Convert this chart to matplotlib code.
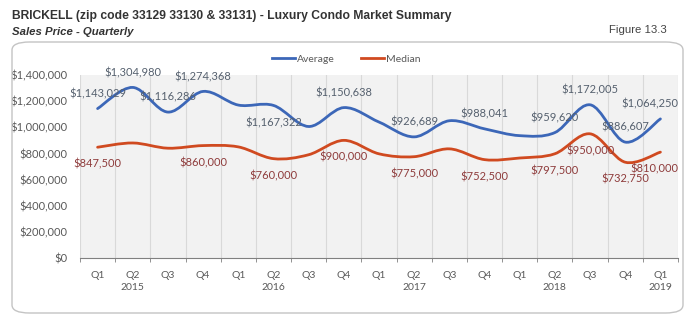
import numpy as np
import matplotlib.pyplot as plt
from matplotlib.path import Path
from matplotlib.patches import PathPatch, FancyBboxPatch

# quarters Q1 2015 .. Q1 2019
quarters = ["Q1", "Q2", "Q3", "Q4", "Q1", "Q2", "Q3", "Q4", "Q1",
            "Q2", "Q3", "Q4", "Q1", "Q2", "Q3", "Q4", "Q1"]
years = ["", "2015", "", "", "", "2016", "", "", "",
         "2017", "", "", "", "2018", "", "", "2019"]

average = [1143029, 1304980, 1116286, 1274368, 1170000, 1167322, 1006000, 1150638,
           1040000, 926689, 1050000, 988041, 936000, 959620, 1172005, 886607, 1064250]
median = [847500, 880000, 840000, 860000, 850000, 760000, 790000, 900000,
          797000, 775000, 835000, 752500, 765000, 797500, 950000, 732750, 810000]

# which points carry a data label
avg_labeled = [0, 1, 2, 3, 5, 7, 9, 11, 13, 14, 15, 16]
med_labeled = [0, 3, 5, 7, 9, 11, 13, 14, 15, 16]

blue = "#3C67B8"
red = "#D04A20"
grey = "#595959"


def smooth_path(xs, ys):
    # excel-like smoothed line: cubic bezier segments (catmull-rom control points)
    pts = np.column_stack([xs, ys]).astype(float)
    n = len(pts)
    verts = [pts[0]]
    codes = [Path.MOVETO]
    for i in range(n - 1):
        p0 = pts[i - 1] if i > 0 else pts[i]
        p1 = pts[i]
        p2 = pts[i + 1]
        p3 = pts[i + 2] if i + 2 < n else pts[i + 1]
        c1 = p1 + (p2 - p0) / 6.0
        c2 = p2 - (p3 - p1) / 6.0
        verts += [c1, c2, p2]
        codes += [Path.CURVE4] * 3
    return Path(verts, codes)


fig = plt.figure(figsize=(7, 3.23), dpi=100)
plt.rcParams['font.family'] = ['Lato', 'DejaVu Sans']

# outer rounded frame
frame = FancyBboxPatch((12 / 700, 1 - 313 / 323), 671 / 700, 271 / 323,
                       boxstyle="round,pad=0,rounding_size=0.025",
                       transform=fig.transFigure, fc="none", ec="#c4c4c4", lw=1.0)
fig.patches.append(frame)

fig.text(12 / 700, 1 - 16 / 323, "BRICKELL (zip code 33129 33130 & 33131) - Luxury Condo Market Summary",
         family="Liberation Sans", weight="bold", fontsize=8.7, color="#333333", va="center")
fig.text(12 / 700, 1 - 32 / 323, "Sales Price - Quarterly",
         family="Liberation Sans", weight="bold", style="italic", fontsize=8.2, color="#333333", va="center")
fig.text(667 / 700, 1 - 30 / 323, "Figure 13.3",
         family="Liberation Sans", fontsize=8.2, color="#444444", va="center", ha="right")

ax = fig.add_axes([80 / 700, 1 - 258 / 323, 598 / 700, 183 / 323])
ax.set_facecolor("#f2f2f2")

x = np.arange(len(quarters))
ax.add_patch(PathPatch(smooth_path(x, average), fc="none", ec=blue, lw=2.0, capstyle="round"))
ax.add_patch(PathPatch(smooth_path(x, median), fc="none", ec=red, lw=2.0, capstyle="round"))

# legend proxies
ax.plot([], [], color=blue, lw=2.0, label="Average")
ax.plot([], [], color=red, lw=2.0, label="Median")
leg = ax.legend(loc="lower center", bbox_to_anchor=(0.445, 1.04), ncol=2, frameon=False,
                fontsize=7.5, handlelength=2.2, handletextpad=0.2, columnspacing=2.5,
                borderaxespad=0)
for t in leg.get_texts():
    t.set_color(grey)

for i in avg_labeled:
    dy = -17 if i == 5 else 15
    dx = -11 if i == 16 else 0
    ax.annotate("${:,.0f}".format(average[i]), (x[i], average[i]), xytext=(dx, dy),
                textcoords="offset pixels", ha="center", va="center",
                fontsize=8, color="#55606e")
for i in med_labeled:
    dx = -6 if i == 16 else 0
    ax.annotate("${:,.0f}".format(median[i]), (x[i], median[i]), xytext=(dx, -17),
                textcoords="offset pixels", ha="center", va="center",
                fontsize=8, color="#8e3b3b")

ax.set_xlim(-0.5, len(quarters) - 0.5)
ax.set_ylim(0, 1400000)
ax.set_yticks(np.arange(0, 1400001, 200000))
ax.set_yticklabels(["${:,.0f}".format(v) for v in np.arange(0, 1400001, 200000)])
ax.set_xticks(x)
ax.set_xticklabels([q + "\n" + y for q, y in zip(quarters, years)], linespacing=1.55)
ax.set_xticks(np.arange(-0.5, len(quarters), 1.0), minor=True)
ax.grid(which="minor", axis="x", color="#d9d9d9", lw=0.8)
ax.tick_params(axis="x", which="major", length=0, pad=9, labelsize=7.5, labelcolor=grey)
ax.tick_params(axis="x", which="minor", length=3, color="#808080", direction="out")
ax.tick_params(axis="y", length=0, pad=9, labelsize=8, labelcolor=grey)
for s in ["top", "right", "left"]:
    ax.spines[s].set_visible(False)
ax.spines["bottom"].set_color("#808080")
ax.set_axisbelow(True)

fig.savefig("out.png", dpi=100)
